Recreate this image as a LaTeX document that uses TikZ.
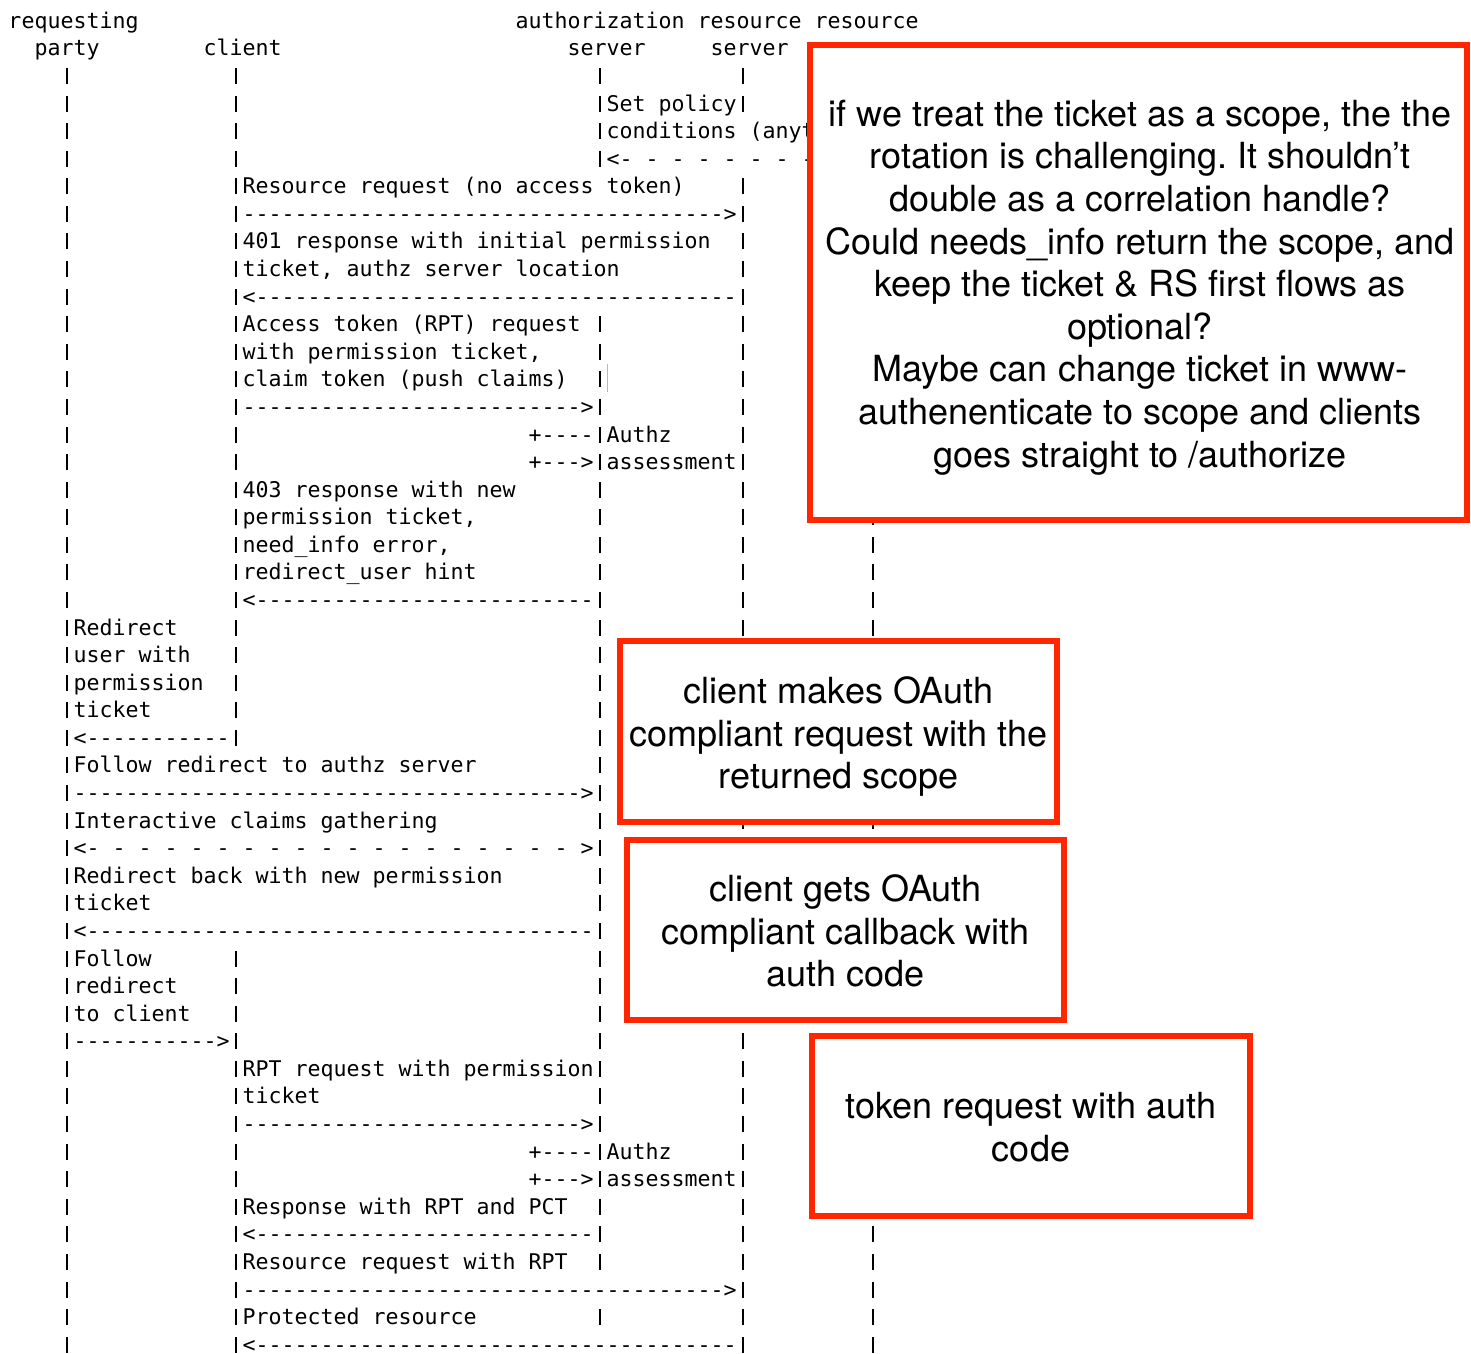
\documentclass[tikz,border=0pt]{standalone}
\usepackage{fontspec}
\setmonofont{DejaVu Sans Mono}
\newfontfamily\boxfont{TeX Gyre Heros}
\ExplSyntaxOn
\NewDocumentCommand\Dsh{m}{\prg_replicate:nn{#1}{-}}
\NewDocumentCommand\SDsh{m}{\prg_replicate:nn{#1}{\c_space_tl -}}
\ExplSyntaxOff
\frenchspacing
\definecolor{boxred}{RGB}{255,38,0}
\definecolor{caretcol}{RGB}{240,180,70}
\tikzset{
  asc/.style={anchor=base west, inner sep=0pt, outer sep=0pt, text=black,
    font=\ttfamily\frenchspacing\fontsize{21.6}{27.6}\selectfont},
  pipe/.style={line width=1.5pt, draw=black},
  redbox/.style={draw=boxred, line width=6.5pt, fill=white, inner sep=0pt},
  notetext/.style={align=center, inner sep=0pt, text=black,
    font=\boxfont\frenchspacing\fontsize{36}{42.6}\selectfont},
  caret/.style={draw=caretcol, line width=1pt}
}
\newcommand\Seg[3]{\node[asc] (t#1c#2) at ({8.5+13*#2},{28.3+27.58*#1}) {#3};}
\newcommand\Pipes[2]{\foreach \cc in {#2}{\draw[pipe] ({15+13*\cc},{28.8+27.58*#1}) -- ++(0,-16);}}
\begin{document}
\begin{tikzpicture}[x=1pt,y=-1pt]
\useasboundingbox (0,0) rectangle (1471,1353);
% header
\Seg{0}{0}{requesting}
\Seg{0}{39}{authorization resource resource}
\Seg{1}{2}{party}
\Seg{1}{15}{client}
\Seg{1}{43}{server}
\Seg{1}{54}{server}
% rows
\Pipes{2}{4,17,45,56,66}
\Pipes{3}{4,17,45,56,66} \Seg{3}{46}{Set policy}
\Pipes{4}{4,17,45,66} \Seg{4}{46}{conditions (anyt}
\Pipes{5}{4,17,45,66} \Seg{5}{46}{<-\SDsh{7}}
\Pipes{6}{4,17,56,66} \Seg{6}{18}{Resource request (no access token)}
\Pipes{7}{4,17,56,66} \Seg{7}{18}{\Dsh{37}>}
\Pipes{8}{4,17,56,66} \Seg{8}{18}{401 response with initial permission}
\Pipes{9}{4,17,56,66} \Seg{9}{18}{ticket, authz server location}
\Pipes{10}{4,17,56,66} \Seg{10}{18}{<\Dsh{37}}
\Pipes{11}{4,17,45,56,66} \Seg{11}{18}{Access token (RPT) request}
\Pipes{12}{4,17,45,56,66} \Seg{12}{18}{with permission ticket,}
\Pipes{13}{4,17,45,56,66} \Seg{13}{18}{claim token (push claims)}
\Pipes{14}{4,17,45,56,66} \Seg{14}{18}{\Dsh{26}>}
\Pipes{15}{4,17,45,56,66} \Seg{15}{40}{+\Dsh{4}} \Seg{15}{46}{Authz}
\Pipes{16}{4,17,45,56,66} \Seg{16}{40}{+\Dsh{3}>} \Seg{16}{46}{assessment}
\Pipes{17}{4,17,45,56,66} \Seg{17}{18}{403 response with new}
\Pipes{18}{4,17,45,56,66} \Seg{18}{18}{permission ticket,}
\Pipes{19}{4,17,45,56,66} \Seg{19}{18}{need\_info error,}
\Pipes{20}{4,17,45,56,66} \Seg{20}{18}{redirect\_user hint}
\Pipes{21}{4,17,45,56,66} \Seg{21}{18}{<\Dsh{26}}
\Pipes{22}{4,17,45,56,66} \Seg{22}{5}{Redirect}
\Pipes{23}{4,17,45,56,66} \Seg{23}{5}{user with}
\Pipes{24}{4,17,45,56,66} \Seg{24}{5}{permission}
\Pipes{25}{4,17,45,56,66} \Seg{25}{5}{ticket}
\Pipes{26}{4,17,45,56,66} \Seg{26}{5}{<\Dsh{11}}
\Pipes{27}{4,45,56,66} \Seg{27}{5}{Follow redirect to authz server}
\Pipes{28}{4,45,56,66} \Seg{28}{5}{\Dsh{39}>}
\Pipes{29}{4,45,56,66} \Seg{29}{5}{Interactive claims gathering}
\Pipes{30}{4,45,56,66} \Seg{30}{5}{<-\SDsh{18} >}
\Pipes{31}{4,45,56,66} \Seg{31}{5}{Redirect back with new permission}
\Pipes{32}{4,45,56,66} \Seg{32}{5}{ticket}
\Pipes{33}{4,45,56,66} \Seg{33}{5}{<\Dsh{39}}
\Pipes{34}{4,17,45,56,66} \Seg{34}{5}{Follow}
\Pipes{35}{4,17,45,56,66} \Seg{35}{5}{redirect}
\Pipes{36}{4,17,45,56,66} \Seg{36}{5}{to client}
\Pipes{37}{4,17,45,56,66} \Seg{37}{5}{\Dsh{11}>}
\Pipes{38}{4,17,45,56,66} \Seg{38}{18}{RPT request with permission}
\Pipes{39}{4,17,45,56,66} \Seg{39}{18}{ticket}
\Pipes{40}{4,17,45,56,66} \Seg{40}{18}{\Dsh{26}>}
\Pipes{41}{4,17,45,56,66} \Seg{41}{40}{+\Dsh{4}} \Seg{41}{46}{Authz}
\Pipes{42}{4,17,45,56,66} \Seg{42}{40}{+\Dsh{3}>} \Seg{42}{46}{assessment}
\Pipes{43}{4,17,45,56,66} \Seg{43}{18}{Response with RPT and PCT}
\Pipes{44}{4,17,45,56,66} \Seg{44}{18}{<\Dsh{26}}
\Pipes{45}{4,17,45,56,66} \Seg{45}{18}{Resource request with RPT}
\Pipes{46}{4,17,56,66} \Seg{46}{18}{\Dsh{37}>}
\Pipes{47}{4,17,45,56,66} \Seg{47}{18}{Protected resource}
\Pipes{48}{4,17,56,66}
\node[asc, text depth=0pt] (t48c18) at ({8.5+13*18},{28.3+27.58*48}) {<\Dsh{37}};
% text cursor
\coordinate (caretA) at (607,364);
\coordinate (caretB) at (607,392);
\draw[caret] (caretA) -- (caretB);
% red note boxes
\node[redbox, minimum width=657pt, minimum height=475pt] (note1) at (1138.5,282.5) {};
\node[notetext] (note1t) at ([xshift=1.5pt,yshift=-5pt]note1.center)
  {if we treat the ticket as a scope, the the\\
   rotation is challenging. It shouldn’t\\
   double as a correlation handle?\\
   Could needs\_info return the scope, and\\
   keep the ticket \& RS first flows as\\
   optional?\\
   Maybe can change ticket in www-\\
   authenenticate to scope and clients\\
   goes straight to /authorize};
\node[redbox, minimum width=437pt, minimum height=181pt] (note2) at (838.5,731.5) {};
\node[notetext] (note2t) at ([yshift=-5pt]note2.center)
  {client makes OAuth\\ compliant request with the\\ returned scope};
\node[redbox, minimum width=437pt, minimum height=180pt] (note3) at (845.5,930) {};
\node[notetext] (note3t) at ([yshift=-1pt]note3.center)
  {client gets OAuth\\ compliant callback with\\ auth code};
\node[redbox, minimum width=438pt, minimum height=180pt] (note4) at (1031,1126) {};
\node[notetext] (note4t) at ([yshift=-1pt]note4.center)
  {token request with auth\\ code};
\end{tikzpicture}
\end{document}
